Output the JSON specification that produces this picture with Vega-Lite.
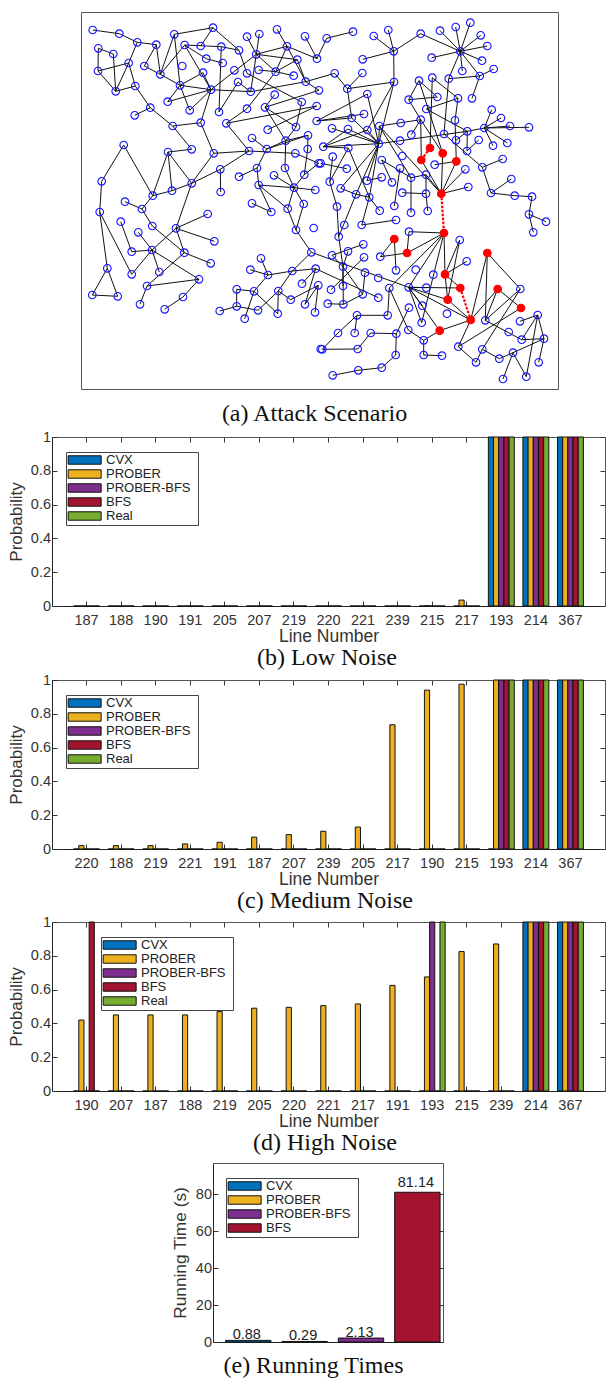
{
"$schema":"https://vega.github.io/schema/vega-lite/v6.json",
"padding":{"left":0,"top":-239,"right":0,"bottom":0},
"background":"white",
"config":{"font":"Liberation Sans","view":{"stroke":null},
"axis":{"labelFont":"Liberation Sans","titleFont":"Liberation Sans","labelColor":"#333333","titleColor":"#333333","labelFontSize":14.5,"titleFontSize":17,"titleFontWeight":"normal","tickColor":"#333333","domain":true,"domainColor":"#555555","domainWidth":1,"grid":false,"tickSize":-5,"labelAngle":0},
"title":{"font":"Liberation Serif","fontSize":24,"fontWeight":"normal","color":"#111111","orient":"bottom"},
"legend":{"orient":"none","labelFont":"Liberation Sans","labelFontSize":13,"labelColor":"#222222","title":null,"fillColor":"white","strokeColor":"#444444","padding":1.5,"symbolType":"M-1.53,0L-1.53,0M20.5,0L20.5,0M-1,-0.72H4.64V0.72H-1Z","symbolSize":137,"symbolStrokeColor":"#111111","symbolStrokeWidth":1,"labelOffset":25.5,"symbolOpacity":1}},
"datasets":{
"nodes":[
{"id":"a1","x":92.7,"y":30},{"id":"a2","x":119.3,"y":33.7},{"id":"a3","x":137.3,"y":42.3},{"id":"a4","x":156.3,"y":44.7},{"id":"a5","x":174.3,"y":34.3},{"id":"a6","x":213,"y":27.7},{"id":"a7","x":98.3,"y":48.3},{"id":"a8","x":113.3,"y":54},{"id":"a9","x":128.7,"y":63},{"id":"a10","x":144.3,"y":66},{"id":"a11","x":160.3,"y":74.3},{"id":"a12","x":184.7,"y":45},{"id":"a13","x":200.7,"y":46},{"id":"a14","x":221.3,"y":46.7},{"id":"a15","x":239,"y":50.3},{"id":"a16","x":206.3,"y":58.7},{"id":"a17","x":222.7,"y":63},{"id":"a18","x":182.3,"y":66},{"id":"a19","x":203,"y":72.7},{"id":"a20","x":98,"y":71},{"id":"a21","x":115.7,"y":91.3},{"id":"a22","x":135.3,"y":86},{"id":"a23","x":180,"y":85.3},{"id":"a24","x":211,"y":89.7},{"id":"a25","x":167.7,"y":101.7},{"id":"a26","x":189.7,"y":110.3},{"id":"a27","x":219,"y":112},{"id":"a28","x":238,"y":82},{"id":"a29","x":234.3,"y":70.3},{"id":"a30","x":250.7,"y":91.7},{"id":"a31","x":247,"y":73.3},{"id":"a32","x":247,"y":36.7},{"id":"a33","x":259.3,"y":34},{"id":"a34","x":256.3,"y":54.3},{"id":"a35","x":277,"y":29.3},{"id":"a36","x":287,"y":46.3},{"id":"a37","x":305,"y":36.3},{"id":"a38","x":297.3,"y":59.7},{"id":"a39","x":317,"y":58.7},{"id":"a40","x":258.7,"y":70},{"id":"a41","x":275.7,"y":71.7},{"id":"a42","x":293.7,"y":75.7},{"id":"a43","x":305.7,"y":81.7},{"id":"a44","x":274.7,"y":94.7},{"id":"a45","x":265,"y":107.3},{"id":"a46","x":301.7,"y":102},{"id":"a47","x":247,"y":108.7},{"id":"a48","x":226.3,"y":123.3},{"id":"a49","x":267.7,"y":129.7},{"id":"a50","x":296,"y":127},{"id":"a51","x":319,"y":90.3},{"id":"a52","x":316.7,"y":106},{"id":"a53","x":316.7,"y":121},{"id":"a54","x":308,"y":135.3},{"id":"a55","x":285.7,"y":140.7},{"id":"a56","x":252,"y":138},{"id":"a57","x":266.7,"y":149},{"id":"a58","x":249,"y":151},{"id":"a59","x":295.3,"y":153.3},{"id":"a60","x":307.7,"y":149},{"id":"a61","x":318.7,"y":163.3},{"id":"a62","x":304.3,"y":174.7},{"id":"a63","x":285,"y":168},{"id":"a64","x":274,"y":175.3},{"id":"a65","x":257,"y":168},{"id":"a66","x":239,"y":176.7},{"id":"a67","x":220.3,"y":169.3},{"id":"a68","x":220.7,"y":192},{"id":"a69","x":191.7,"y":183.3},{"id":"a70","x":213.7,"y":153.3},{"id":"a71","x":200.7,"y":122.7},{"id":"a72","x":172.7,"y":126},{"id":"a73","x":191.7,"y":149.3},{"id":"a74","x":168,"y":152},{"id":"a75","x":150.3,"y":107.7},{"id":"a76","x":134.7,"y":115.3},{"id":"a77","x":123.7,"y":145},{"id":"a78","x":101.7,"y":181.3},{"id":"a79","x":152.7,"y":195.7},{"id":"a80","x":172,"y":190.7},{"id":"a81","x":258.7,"y":185},{"id":"a82","x":294,"y":187.7},{"id":"a83","x":315.3,"y":190},
{"id":"c1","x":99.7,"y":212},{"id":"c2","x":125,"y":201.7},{"id":"c3","x":142,"y":209},{"id":"c4","x":120.7,"y":221.7},{"id":"c5","x":152.3,"y":226},{"id":"c6","x":176,"y":228.3},{"id":"c7","x":207.7,"y":214},{"id":"c8","x":214.3,"y":241.3},{"id":"c9","x":138.3,"y":232.3},{"id":"c10","x":131.7,"y":251.7},{"id":"c11","x":152,"y":250},{"id":"c12","x":184.3,"y":252.7},{"id":"c13","x":210.7,"y":263.3},{"id":"c14","x":159.3,"y":272},{"id":"c15","x":131.7,"y":274.3},{"id":"c16","x":107.3,"y":268.3},{"id":"c17","x":92.3,"y":295},{"id":"c18","x":117.7,"y":296.3},{"id":"c19","x":147,"y":286},{"id":"c20","x":199,"y":279.3},{"id":"c21","x":140,"y":304.3},{"id":"c22","x":183,"y":297},{"id":"c23","x":164.7,"y":309.3},{"id":"c24","x":252,"y":203.3},{"id":"c25","x":271.3,"y":212},{"id":"c26","x":287.7,"y":208.7},{"id":"c27","x":303.7,"y":204},{"id":"c28","x":296,"y":230},{"id":"c29","x":313.7,"y":228},{"id":"c30","x":311.3,"y":252.3},{"id":"c31","x":261,"y":258.3},{"id":"c32","x":250.3,"y":269.7},{"id":"c33","x":268,"y":275},{"id":"c34","x":292.3,"y":271},{"id":"c35","x":315.7,"y":268.7},{"id":"c36","x":302,"y":283.7},{"id":"c37","x":318.3,"y":285.3},{"id":"c38","x":236.7,"y":289.3},{"id":"c39","x":254,"y":291.3},{"id":"c40","x":278.3,"y":291},{"id":"c41","x":290.7,"y":299.7},{"id":"c42","x":305,"y":304.3},{"id":"c43","x":315,"y":312.3},{"id":"c44","x":236.7,"y":306.3},{"id":"c45","x":258,"y":310.3},{"id":"c46","x":277.7,"y":313.7},{"id":"c47","x":219.7,"y":311},{"id":"c48","x":244.7,"y":318.7},{"id":"c49","x":320.7,"y":349},
{"id":"b1","x":326.7,"y":38.3},{"id":"b2","x":353,"y":31.7},{"id":"b3","x":373.7,"y":36},{"id":"b4","x":388.3,"y":30},{"id":"b5","x":420.7,"y":33.7},{"id":"b6","x":393.7,"y":51.3},{"id":"b7","x":362.7,"y":59.3},{"id":"b8","x":440,"y":30.7},{"id":"b9","x":455.7,"y":27},{"id":"b10","x":470.3,"y":22.7},{"id":"b11","x":480.7,"y":35.3},{"id":"b12","x":487.3,"y":46},{"id":"b13","x":482,"y":60.7},{"id":"b14","x":460.3,"y":51.3},{"id":"b15","x":431.7,"y":57.7},{"id":"b16","x":462.3,"y":71},{"id":"b17","x":493.7,"y":69},{"id":"b18","x":479.7,"y":76},{"id":"b19","x":448.7,"y":78.7},{"id":"b20","x":432.3,"y":77.7},{"id":"b21","x":419,"y":80.7},{"id":"b22","x":472,"y":98.3},{"id":"b23","x":458,"y":98.3},{"id":"b24","x":437.3,"y":97},{"id":"b25","x":408.7,"y":99.7},{"id":"b26","x":426.3,"y":109},{"id":"b27","x":491.7,"y":109.7},{"id":"b28","x":501,"y":118},{"id":"b29","x":510,"y":126},{"id":"b30","x":529,"y":127.3},{"id":"b31","x":484.3,"y":128},{"id":"b32","x":467.3,"y":131.3},{"id":"b33","x":455,"y":120.3},{"id":"b34","x":420.7,"y":119.7},{"id":"b35","x":400.7,"y":123},{"id":"b36","x":379.3,"y":126},{"id":"b37","x":411.3,"y":134.7},{"id":"b38","x":444,"y":134},{"id":"b39","x":456,"y":140.3},{"id":"b40","x":478.7,"y":140},{"id":"b41","x":493,"y":145.7},{"id":"b42","x":507.3,"y":143},{"id":"b43","x":467,"y":151},{"id":"b44","x":400,"y":140.7},{"id":"b45","x":378.7,"y":143.7},{"id":"b46","x":402.3,"y":156},{"id":"b47","x":430,"y":148,"red":1},{"id":"b48","x":442.7,"y":153.3,"red":1},{"id":"b49","x":421.3,"y":160,"red":1},{"id":"b50","x":456.3,"y":161.3,"red":1},{"id":"b51","x":434.7,"y":164.7},{"id":"b52","x":465.3,"y":169.3},{"id":"b53","x":482.3,"y":167.3},{"id":"b54","x":502.7,"y":159},{"id":"b55","x":511.3,"y":179},{"id":"b56","x":491,"y":193},{"id":"b57","x":514.7,"y":195.7},{"id":"b58","x":532,"y":196.7},{"id":"b59","x":468.3,"y":187},{"id":"b60","x":441.3,"y":193.7,"red":1},{"id":"b61","x":426,"y":174.7},{"id":"b62","x":411,"y":177.7},{"id":"b63","x":400,"y":168.3},{"id":"b64","x":381.7,"y":160},{"id":"b65","x":392,"y":182.3},{"id":"b66","x":381.7,"y":177.3},{"id":"b67","x":367,"y":180.7},{"id":"b68","x":402.3,"y":192.7},{"id":"b69","x":426,"y":193.7},{"id":"b70","x":369.3,"y":197.3},{"id":"b71","x":356,"y":194.3},{"id":"b72","x":340.7,"y":188.3},{"id":"b73","x":329.7,"y":181.7},{"id":"b74","x":346.7,"y":168.7},{"id":"b75","x":332.7,"y":156.7},{"id":"b76","x":320.7,"y":163.3},{"id":"b77","x":348.3,"y":148},{"id":"b78","x":323.3,"y":146.7},{"id":"b79","x":367.3,"y":130},{"id":"b80","x":348,"y":129},{"id":"b81","x":332,"y":128.3},{"id":"b82","x":351.7,"y":118},{"id":"b83","x":364,"y":114},{"id":"b84","x":367.3,"y":94},{"id":"b85","x":347.3,"y":88.7},{"id":"b86","x":334.7,"y":73.3},{"id":"b87","x":362.3,"y":73},{"id":"b88","x":394,"y":82},
{"id":"d1","x":337,"y":206.7},{"id":"d3","x":379.7,"y":210.7},{"id":"d4","x":394.3,"y":206},{"id":"d5","x":411,"y":212.7},{"id":"d6","x":427.7,"y":211},{"id":"d7","x":344.3,"y":225},{"id":"d8","x":361.7,"y":225},{"id":"d9","x":396,"y":220},{"id":"d10","x":444,"y":233,"red":1},{"id":"d11","x":409,"y":231.7},{"id":"d12","x":394.3,"y":239,"red":1},{"id":"d13","x":407,"y":253,"red":1},{"id":"d14","x":380.3,"y":256.7},{"id":"d15","x":396,"y":270.3},{"id":"d16","x":459.7,"y":240},{"id":"d17","x":466.7,"y":261.3},{"id":"d18","x":487.3,"y":253,"red":1},{"id":"d19","x":338.7,"y":236.7},{"id":"d20","x":332,"y":255.3},{"id":"d21","x":348,"y":251.3},{"id":"d22","x":363.3,"y":244.3},{"id":"d23","x":364,"y":257.3},{"id":"d24","x":343,"y":266.7},{"id":"d25","x":365,"y":272.7},{"id":"d26","x":378.3,"y":278},{"id":"d27","x":415.7,"y":269.7},{"id":"d28","x":433.3,"y":274.7},{"id":"d29","x":445,"y":274.3,"red":1},{"id":"d30","x":460.3,"y":288,"red":1},{"id":"d31","x":426.3,"y":287.7},{"id":"d32","x":408.7,"y":287.3},{"id":"d33","x":389.3,"y":288},{"id":"d34","x":497.7,"y":289,"red":1},{"id":"d35","x":520.3,"y":289},{"id":"d36","x":447.7,"y":299.7,"red":1},{"id":"d37","x":521,"y":308,"red":1},{"id":"d38","x":470.7,"y":320,"red":1},{"id":"d39","x":439.7,"y":330.7,"red":1},{"id":"d40","x":447,"y":313.7},{"id":"d41","x":422.3,"y":305.7},{"id":"d42","x":409,"y":307.7},{"id":"d43","x":421.7,"y":322.7},{"id":"d44","x":485.3,"y":320.3},{"id":"d45","x":520,"y":321.3},{"id":"d46","x":537.7,"y":315},{"id":"d47","x":508.7,"y":332},{"id":"d48","x":521.7,"y":339.7},{"id":"d49","x":544,"y":338.7},{"id":"d51","x":331,"y":289.7},{"id":"d52","x":343,"y":286},{"id":"d53","x":362.7,"y":294.3},{"id":"d54","x":378.3,"y":297.7},{"id":"d55","x":327.7,"y":303.7},{"id":"d56","x":343.3,"y":304.3},{"id":"d57","x":357,"y":315.3},{"id":"d58","x":387.7,"y":315.3},{"id":"d59","x":338,"y":333},{"id":"d60","x":354.7,"y":333},{"id":"d61","x":370.7,"y":333},{"id":"d62","x":396.3,"y":333.7},{"id":"d63","x":408.3,"y":330},{"id":"d64","x":423.7,"y":340.3},{"id":"d65","x":322.3,"y":349.3},{"id":"d66","x":357.7,"y":349},{"id":"d67","x":395.7,"y":355},{"id":"d68","x":423.7,"y":355},{"id":"d69","x":442,"y":355.7},{"id":"d70","x":458.3,"y":346.7},{"id":"d71","x":476,"y":362.3},{"id":"d72","x":482.3,"y":349.3},{"id":"d73","x":499.3,"y":358.7},{"id":"d74","x":513,"y":352.7},{"id":"d75","x":538.7,"y":362.3},{"id":"d76","x":503,"y":379},{"id":"d77","x":526.3,"y":376.7},{"id":"d78","x":381.7,"y":367.7},{"id":"d79","x":358.3,"y":370.3},{"id":"d80","x":332.7,"y":375.3},{"id":"d81","x":529,"y":214.3},{"id":"d82","x":546,"y":221.7},{"id":"d83","x":533.3,"y":232.3}
],
"edges":[
{"s":"a1","t":"a2"},{"s":"a2","t":"a3"},{"s":"a3","t":"a4"},{"s":"a3","t":"a9"},{"s":"a4","t":"a10"},{"s":"a4","t":"a11"},{"s":"a5","t":"a6"},{"s":"a5","t":"a11"},{"s":"a6","t":"a13"},{"s":"a6","t":"a15"},{"s":"a5","t":"a23"},{"s":"a12","t":"a11"},{"s":"a12","t":"a14"},{"s":"a14","t":"a15"},{"s":"a14","t":"a27"},{"s":"a12","t":"a16"},{"s":"a16","t":"a17"},{"s":"a12","t":"a24"},{"s":"a7","t":"a8"},{"s":"a7","t":"a20"},{"s":"a8","t":"a21"},{"s":"a9","t":"a20"},{"s":"a9","t":"a21"},{"s":"a9","t":"a22"},{"s":"a20","t":"a21"},{"s":"a21","t":"a22"},{"s":"a22","t":"a75"},{"s":"a10","t":"a11"},{"s":"a11","t":"a23"},{"s":"a23","t":"a19"},{"s":"a23","t":"a24"},{"s":"a23","t":"a25"},{"s":"a23","t":"a26"},{"s":"a24","t":"a25"},{"s":"a24","t":"a26"},{"s":"a24","t":"a71"},{"s":"a24","t":"a34"},{"s":"a24","t":"a19"},{"s":"a24","t":"a30"},{"s":"a27","t":"a28"},{"s":"a28","t":"a30"},{"s":"a15","t":"a31"},{"s":"a31","t":"a46"},{"s":"a34","t":"a32"},{"s":"a34","t":"a33"},{"s":"a34","t":"a36"},{"s":"a34","t":"a38"},{"s":"a34","t":"a41"},{"s":"a34","t":"a30"},{"s":"a35","t":"a36"},{"s":"a36","t":"a41"},{"s":"a36","t":"a43"},{"s":"a38","t":"a41"},{"s":"a38","t":"a43"},{"s":"a37","t":"a39"},{"s":"a39","t":"a36"},{"s":"a41","t":"a40"},{"s":"a41","t":"a42"},{"s":"a41","t":"a47"},{"s":"a43","t":"a30"},{"s":"a43","t":"a51"},{"s":"a44","t":"a45"},{"s":"a45","t":"a51"},{"s":"a45","t":"a50"},{"s":"a45","t":"a55"},{"s":"a48","t":"a52"},{"s":"a46","t":"a50"},{"s":"a49","t":"a52"},{"s":"a47","t":"a48"},{"s":"a48","t":"a58"},{"s":"a50","t":"a55"},{"s":"a55","t":"a57"},{"s":"a55","t":"a63"},{"s":"a55","t":"a54"},{"s":"a57","t":"a56"},{"s":"a58","t":"a59"},{"s":"a57","t":"a54"},{"s":"a57","t":"a65"},{"s":"a58","t":"a70"},{"s":"a58","t":"a67"},{"s":"a67","t":"a69"},{"s":"a67","t":"a68"},{"s":"a70","t":"a71"},{"s":"a70","t":"a69"},{"s":"a71","t":"a72"},{"s":"a72","t":"a75"},{"s":"a72","t":"a73"},{"s":"a75","t":"a76"},{"s":"a74","t":"a73"},{"s":"a74","t":"a69"},{"s":"a74","t":"a79"},{"s":"a74","t":"a80"},{"s":"a69","t":"a80"},{"s":"a77","t":"a78"},{"s":"a77","t":"a79"},{"s":"a78","t":"c1"},{"s":"a65","t":"a66"},{"s":"a65","t":"a81"},{"s":"a81","t":"a82"},{"s":"a82","t":"a83"},{"s":"a81","t":"c26"},{"s":"a81","t":"c25"},{"s":"a63","t":"a82"},{"s":"a64","t":"a82"},{"s":"a62","t":"a82"},{"s":"a61","t":"a62"},{"s":"a59","t":"a61"},{"s":"a60","t":"a54"},{"s":"a60","t":"a62"},{"s":"a69","t":"c6"},{"s":"a79","t":"a80"},{"s":"a79","t":"c3"},{"s":"a82","t":"c26"},{"s":"a82","t":"c27"},
{"s":"c1","t":"c16"},{"s":"c1","t":"c15"},{"s":"c16","t":"c17"},{"s":"c16","t":"c18"},{"s":"c17","t":"c18"},{"s":"c3","t":"c2"},{"s":"c3","t":"c5"},{"s":"c5","t":"c12"},{"s":"c4","t":"c10"},{"s":"c9","t":"c11"},{"s":"c10","t":"c11"},{"s":"c11","t":"c6"},{"s":"c11","t":"c15"},{"s":"c11","t":"c14"},{"s":"c11","t":"c20"},{"s":"c6","t":"c7"},{"s":"c6","t":"c8"},{"s":"c6","t":"c12"},{"s":"c12","t":"c13"},{"s":"c12","t":"c19"},{"s":"c19","t":"c20"},{"s":"c19","t":"c21"},{"s":"c20","t":"c22"},{"s":"c22","t":"c23"},{"s":"c24","t":"c25"},{"s":"c26","t":"c28"},{"s":"c27","t":"c28"},{"s":"c28","t":"c30"},{"s":"c30","t":"c34"},{"s":"c31","t":"c33"},{"s":"c32","t":"c33"},{"s":"c33","t":"c34"},{"s":"c33","t":"c39"},{"s":"c34","t":"c35"},{"s":"c34","t":"c40"},{"s":"c35","t":"c36"},{"s":"c35","t":"c42"},{"s":"c37","t":"c41"},{"s":"c37","t":"c42"},{"s":"c37","t":"c43"},{"s":"c41","t":"c40"},{"s":"c40","t":"c45"},{"s":"c40","t":"c46"},{"s":"c39","t":"c46"},{"s":"c39","t":"c38"},{"s":"c38","t":"c44"},{"s":"c39","t":"c48"},{"s":"c44","t":"c45"},{"s":"c44","t":"c47"},
{"s":"b1","t":"b2"},{"s":"b1","t":"a39"},{"s":"b3","t":"b6"},{"s":"b4","t":"b6"},{"s":"b5","t":"b6"},{"s":"b7","t":"b6"},{"s":"b5","t":"b14"},{"s":"b8","t":"b14"},{"s":"b9","t":"b14"},{"s":"b10","t":"b14"},{"s":"b11","t":"b14"},{"s":"b12","t":"b14"},{"s":"b13","t":"b14"},{"s":"b15","t":"b14"},{"s":"b16","t":"b14"},{"s":"b18","t":"b14"},{"s":"b19","t":"b14"},{"s":"b17","t":"b18"},{"s":"b18","t":"b19"},{"s":"b18","t":"b22"},{"s":"b19","t":"b38"},{"s":"b20","t":"b23"},{"s":"b20","t":"b47"},{"s":"b21","t":"b24"},{"s":"b21","t":"b25"},{"s":"b21","t":"b48"},{"s":"b25","t":"b24"},{"s":"b25","t":"b34"},{"s":"b26","t":"b23"},{"s":"b26","t":"b32"},{"s":"b23","t":"b33"},{"s":"b33","t":"b50"},{"s":"b34","t":"b36"},{"s":"b34","t":"b49"},{"s":"b34","t":"b48"},{"s":"b34","t":"b37"},{"s":"b32","t":"b31"},{"s":"b32","t":"b43"},{"s":"b32","t":"b39"},{"s":"b38","t":"b53"},{"s":"b31","t":"b27"},{"s":"b31","t":"b28"},{"s":"b31","t":"b29"},{"s":"b31","t":"b30"},{"s":"b31","t":"b41"},{"s":"b31","t":"b42"},{"s":"b43","t":"b40"},{"s":"b53","t":"b54"},{"s":"b53","t":"b56"},{"s":"b55","t":"b56"},{"s":"b56","t":"b57"},{"s":"b57","t":"b58"},{"s":"b45","t":"b32"},{"s":"b36","t":"b60"},{"s":"b36","t":"b62"},{"s":"b36","t":"b45"},{"s":"b49","t":"b60"},{"s":"b48","t":"b60"},{"s":"b50","t":"b60"},{"s":"b51","t":"b50"},{"s":"b52","t":"b60"},{"s":"b59","t":"b60"},{"s":"b64","t":"b62"},{"s":"b64","t":"b65"},{"s":"b61","t":"b62"},{"s":"b61","t":"b60"},{"s":"b63","t":"d4"},{"s":"b62","t":"d5"},{"s":"b69","t":"b68"},{"s":"b69","t":"b61"},{"s":"b69","t":"d6"},{"s":"b88","t":"b6"},{"s":"b88","t":"b85"},{"s":"b88","t":"b79"},{"s":"b88","t":"b45"},{"s":"b84","t":"b45"},{"s":"b84","t":"a53"},{"s":"b85","t":"b86"},{"s":"b85","t":"b82"},{"s":"b87","t":"b85"},{"s":"b86","t":"a43"},{"s":"b82","t":"b45"},{"s":"b82","t":"a53"},{"s":"b83","t":"a53"},{"s":"b79","t":"b45"},{"s":"b79","t":"b78"},{"s":"b78","t":"b77"},{"s":"b78","t":"b45"},{"s":"b78","t":"b80"},{"s":"b80","t":"b45"},{"s":"b81","t":"b45"},{"s":"b45","t":"b70"},{"s":"b45","t":"b71"},{"s":"b45","t":"b67"},{"s":"b45","t":"b72"},{"s":"b66","t":"b67"},{"s":"b77","t":"b73"},{"s":"b77","t":"b70"},{"s":"b74","t":"b76"},{"s":"b73","t":"b75"},{"s":"b71","t":"b72"},{"s":"b70","t":"b71"},
{"s":"b70","t":"d3"},{"s":"b70","t":"d8"},{"s":"b73","t":"d1"},{"s":"b71","t":"d19"},{"s":"d1","t":"d19"},{"s":"d19","t":"d24"},{"s":"d8","t":"d9"},{"s":"d10","t":"d11"},{"s":"d10","t":"d13"},{"s":"d10","t":"d29"},{"s":"d10","t":"d33"},{"s":"d10","t":"d32"},{"s":"d10","t":"d43"},{"s":"d12","t":"d14"},{"s":"d12","t":"d15"},{"s":"d11","t":"d13"},{"s":"d13","t":"d14"},{"s":"d16","t":"d29"},{"s":"d16","t":"d36"},{"s":"d17","t":"d29"},{"s":"d29","t":"d30"},{"s":"d29","t":"d36"},{"s":"d32","t":"d30"},{"s":"d32","t":"d36"},{"s":"d32","t":"d38"},{"s":"d32","t":"d39"},{"s":"d32","t":"d43"},{"s":"d32","t":"d41"},{"s":"d32","t":"d31"},{"s":"d33","t":"d58"},{"s":"d36","t":"d38"},{"s":"d38","t":"d39"},{"s":"d38","t":"d18"},{"s":"d18","t":"d35"},{"s":"d18","t":"d44"},{"s":"d38","t":"d34"},{"s":"d34","t":"d37"},{"s":"d34","t":"d44"},{"s":"d35","t":"d44"},{"s":"d37","t":"d70"},{"s":"d35","t":"d72"},{"s":"d38","t":"d70"},{"s":"d70","t":"d71"},{"s":"d71","t":"d72"},{"s":"d72","t":"d73"},{"s":"d73","t":"d74"},{"s":"d74","t":"d49"},{"s":"d44","t":"d48"},{"s":"d48","t":"d49"},{"s":"d46","t":"d45"},{"s":"d46","t":"d48"},{"s":"d46","t":"d49"},{"s":"d46","t":"d77"},{"s":"d74","t":"d76"},{"s":"d74","t":"d77"},{"s":"d49","t":"d75"},{"s":"d42","t":"d62"},{"s":"d62","t":"d61"},{"s":"d61","t":"d66"},{"s":"d66","t":"d65"},{"s":"d65","t":"d59"},{"s":"d59","t":"d57"},{"s":"d57","t":"d58"},{"s":"d57","t":"d60"},{"s":"d62","t":"d67"},{"s":"d67","t":"d78"},{"s":"d78","t":"d79"},{"s":"d79","t":"d80"},{"s":"d33","t":"d63"},{"s":"d63","t":"d64"},{"s":"d64","t":"d39"},{"s":"d64","t":"d68"},{"s":"d68","t":"d69"},{"s":"d24","t":"d52"},{"s":"d24","t":"d56"},{"s":"d24","t":"d20"},{"s":"d24","t":"d21"},{"s":"d20","t":"d22"},{"s":"d23","t":"d51"},{"s":"d25","t":"d53"},{"s":"d53","t":"d24"},{"s":"d53","t":"d56"},{"s":"d55","t":"d56"},{"s":"c30","t":"d32"},{"s":"c35","t":"d54"},{"s":"d81","t":"d82"},{"s":"d81","t":"d83"},{"s":"b58","t":"d81"},
{"s":"b47","t":"b49","kind":"attack"},{"s":"b60","t":"d10","kind":"attack"},{"s":"d30","t":"d38","kind":"attack"}
],
"low":[
{"line":"187","CVX":0,"PROBER":0,"PROBER-BFS":0,"BFS":0,"Real":0},{"line":"188","CVX":0,"PROBER":0,"PROBER-BFS":0,"BFS":0,"Real":0},{"line":"190","CVX":0,"PROBER":0,"PROBER-BFS":0,"BFS":0,"Real":0},{"line":"191","CVX":0,"PROBER":0,"PROBER-BFS":0,"BFS":0,"Real":0},{"line":"205","CVX":0,"PROBER":0,"PROBER-BFS":0,"BFS":0,"Real":0},{"line":"207","CVX":0,"PROBER":0,"PROBER-BFS":0,"BFS":0,"Real":0},{"line":"219","CVX":0,"PROBER":0,"PROBER-BFS":0,"BFS":0,"Real":0},{"line":"220","CVX":0,"PROBER":0,"PROBER-BFS":0,"BFS":0,"Real":0},{"line":"221","CVX":0,"PROBER":0,"PROBER-BFS":0,"BFS":0,"Real":0},{"line":"239","CVX":0,"PROBER":0,"PROBER-BFS":0,"BFS":0,"Real":0},{"line":"215","CVX":0,"PROBER":0.002,"PROBER-BFS":0,"BFS":0,"Real":0},{"line":"217","CVX":0,"PROBER":0.035,"PROBER-BFS":0,"BFS":0,"Real":0},{"line":"193","CVX":1,"PROBER":1,"PROBER-BFS":1,"BFS":1,"Real":1},{"line":"214","CVX":1,"PROBER":1,"PROBER-BFS":1,"BFS":1,"Real":1},{"line":"367","CVX":1,"PROBER":1,"PROBER-BFS":1,"BFS":1,"Real":1}
],
"medium":[
{"line":"220","CVX":0,"PROBER":0.02,"PROBER-BFS":0,"BFS":0,"Real":0},{"line":"188","CVX":0,"PROBER":0.02,"PROBER-BFS":0,"BFS":0,"Real":0},{"line":"219","CVX":0,"PROBER":0.02,"PROBER-BFS":0,"BFS":0,"Real":0},{"line":"221","CVX":0,"PROBER":0.03,"PROBER-BFS":0,"BFS":0,"Real":0},{"line":"191","CVX":0,"PROBER":0.04,"PROBER-BFS":0,"BFS":0,"Real":0},{"line":"187","CVX":0,"PROBER":0.07,"PROBER-BFS":0,"BFS":0,"Real":0},{"line":"207","CVX":0,"PROBER":0.085,"PROBER-BFS":0,"BFS":0,"Real":0},{"line":"239","CVX":0,"PROBER":0.105,"PROBER-BFS":0,"BFS":0,"Real":0},{"line":"205","CVX":0,"PROBER":0.13,"PROBER-BFS":0,"BFS":0,"Real":0},{"line":"217","CVX":0,"PROBER":0.735,"PROBER-BFS":0,"BFS":0,"Real":0},{"line":"190","CVX":0,"PROBER":0.94,"PROBER-BFS":0,"BFS":0,"Real":0},{"line":"215","CVX":0,"PROBER":0.975,"PROBER-BFS":0,"BFS":0,"Real":0},{"line":"193","CVX":0,"PROBER":1,"PROBER-BFS":1,"BFS":1,"Real":1},{"line":"214","CVX":1,"PROBER":1,"PROBER-BFS":1,"BFS":1,"Real":1},{"line":"367","CVX":1,"PROBER":1,"PROBER-BFS":1,"BFS":1,"Real":1}
],
"high":[
{"line":"190","CVX":0,"PROBER":0.42,"PROBER-BFS":0,"BFS":1,"Real":0},{"line":"207","CVX":0,"PROBER":0.45,"PROBER-BFS":0,"BFS":0,"Real":0},{"line":"187","CVX":0,"PROBER":0.45,"PROBER-BFS":0,"BFS":0,"Real":0},{"line":"188","CVX":0,"PROBER":0.45,"PROBER-BFS":0,"BFS":0,"Real":0},{"line":"219","CVX":0,"PROBER":0.47,"PROBER-BFS":0,"BFS":0,"Real":0},{"line":"205","CVX":0,"PROBER":0.49,"PROBER-BFS":0,"BFS":0,"Real":0},{"line":"220","CVX":0,"PROBER":0.495,"PROBER-BFS":0,"BFS":0,"Real":0},{"line":"221","CVX":0,"PROBER":0.505,"PROBER-BFS":0,"BFS":0,"Real":0},{"line":"217","CVX":0,"PROBER":0.515,"PROBER-BFS":0,"BFS":0,"Real":0},{"line":"191","CVX":0,"PROBER":0.625,"PROBER-BFS":0,"BFS":0,"Real":0},{"line":"193","CVX":0,"PROBER":0.675,"PROBER-BFS":1,"BFS":0,"Real":1},{"line":"215","CVX":0,"PROBER":0.825,"PROBER-BFS":0,"BFS":0,"Real":0},{"line":"239","CVX":0,"PROBER":0.87,"PROBER-BFS":0,"BFS":0,"Real":0},{"line":"214","CVX":1,"PROBER":1,"PROBER-BFS":1,"BFS":1,"Real":1},{"line":"367","CVX":1,"PROBER":1,"PROBER-BFS":1,"BFS":1,"Real":1}
],
"times":[{"method":"CVX","seconds":0.88},{"method":"PROBER","seconds":0.29},{"method":"PROBER-BFS","seconds":2.13},{"method":"BFS","seconds":81.14}]
},
"vconcat":[
{"width":606,"height":377,"title":{"text":"(a) Attack Scenario","dx":11.5,"offset":13},
 "resolve":{"axis":{"x":"independent","y":"independent"}},
 "layer":[
 {"data":{"name":"edges"},"transform":[{"filter":"datum.kind!=='attack'"},{"lookup":"s","from":{"data":{"name":"nodes"},"key":"id","fields":["x","y"]},"as":["x1","y1"]},{"lookup":"t","from":{"data":{"name":"nodes"},"key":"id","fields":["x","y"]},"as":["x2","y2"]}],
  "mark":{"type":"rule","stroke":"#111111","strokeWidth":1},
  "encoding":{"x":{"field":"x1","type":"quantitative","scale":{"domain":[81,558],"range":[81,558],"nice":false,"zero":false},"axis":{"labels":false,"ticks":false,"title":null}},"y":{"field":"y1","type":"quantitative","scale":{"domain":[389,12],"nice":false,"zero":false},"axis":{"labels":false,"ticks":false,"title":null,"offset":-81}},"x2":{"field":"x2"},"y2":{"field":"y2"}}},
 {"data":{"name":"edges"},"transform":[{"filter":"datum.kind==='attack'"},{"lookup":"s","from":{"data":{"name":"nodes"},"key":"id","fields":["x","y"]},"as":["x1","y1"]},{"lookup":"t","from":{"data":{"name":"nodes"},"key":"id","fields":["x","y"]},"as":["x2","y2"]}],
  "mark":{"type":"rule","stroke":"#ff0000","strokeWidth":2.2,"strokeDash":[2.5,1.5]},
  "encoding":{"x":{"field":"x1","type":"quantitative","scale":{"domain":[81,558],"range":[81,558],"nice":false,"zero":false},"axis":{"orient":"top","labels":false,"ticks":false,"title":null}},"y":{"field":"y1","type":"quantitative","scale":{"domain":[389,12],"nice":false,"zero":false},"axis":{"orient":"right","labels":false,"ticks":false,"title":null,"offset":-48}},"x2":{"field":"x2"},"y2":{"field":"y2"}}},
 {"data":{"name":"nodes"},
  "mark":{"type":"point","shape":"circle","size":58,"filled":true,"strokeWidth":1.1,"opacity":1},
  "encoding":{"x":{"field":"x","type":"quantitative","scale":{"domain":[81,558],"range":[81,558],"nice":false,"zero":false},"axis":null},"y":{"field":"y","type":"quantitative","scale":{"domain":[389,12],"nice":false,"zero":false},"axis":null},
  "fill":{"condition":{"test":"datum.red===1","value":"#ff0000"},"value":"transparent"},"stroke":{"condition":{"test":"datum.red===1","value":"#ff0000"},"value":"#1414ff"}}}
 ]},
{"width":606,"height":48,"mark":{"type":"rule","opacity":0},"encoding":{}},
{"width":606,"height":169,"title":{"text":"(b) Low Noise","dx":24,"offset":1},
 "data":{"name":"low"},"transform":[{"fold":["CVX","PROBER","PROBER-BFS","BFS","Real"],"as":["series","p"]}],
 "resolve":{"axis":{"x":"independent","y":"independent"}},
 "layer":[
 {"mark":{"type":"bar","stroke":"#111111","strokeWidth":1},
  "encoding":{"x":{"field":"line","type":"nominal","sort":null,"scale":{"range":[52,605],"paddingInner":0.25,"paddingOuter":0.625},"axis":{"title":"Line Number","titleFontSize":17.5,"labelPadding":12.5,"titlePadding":0.5,"domainColor":"#222222"}},
  "xOffset":{"field":"series","type":"nominal","sort":["CVX","PROBER","PROBER-BFS","BFS","Real"]},
  "y":{"field":"p","type":"quantitative","scale":{"domain":[0,1],"nice":false},"axis":{"title":"Probability","values":[0,0.2,0.4,0.6,0.8,1],"format":".1~f","labelPadding":6.5,"offset":-52,"titleX":-27,"domainColor":"#222222"}},
  "fill":{"field":"series","type":"nominal","scale":{"domain":["CVX","PROBER","PROBER-BFS","BFS","Real"],"range":["#0072BD","#EDB120","#7E2F8E","#A2142F","#77AC30"]},"legend":{"legendX":66,"legendY":15,"rowPadding":-0.3}}}},
 {"mark":{"type":"bar","opacity":0},
  "encoding":{"x":{"field":"line","type":"nominal","sort":null,"scale":{"range":[52,605],"paddingInner":0.25,"paddingOuter":0.625},"axis":{"orient":"top","labels":false,"title":null}},
  "y":{"field":"p","type":"quantitative","scale":{"domain":[0,1],"nice":false},"axis":{"orient":"right","labels":false,"title":null,"offset":-1,"values":[0,0.2,0.4,0.6,0.8,1]}}}}
 ]},
{"width":606,"height":74,"mark":{"type":"rule","opacity":0},"encoding":{}},
{"width":606,"height":169,"title":{"text":"(c) Medium Noise","dx":22,"offset":1},
 "data":{"name":"medium"},"transform":[{"fold":["CVX","PROBER","PROBER-BFS","BFS","Real"],"as":["series","p"]}],
 "resolve":{"axis":{"x":"independent","y":"independent"}},
 "layer":[
 {"mark":{"type":"bar","stroke":"#111111","strokeWidth":1},
  "encoding":{"x":{"field":"line","type":"nominal","sort":null,"scale":{"range":[52,605],"paddingInner":0.25,"paddingOuter":0.625},"axis":{"title":"Line Number","titleFontSize":17.5,"labelPadding":12.5,"titlePadding":0.5,"domainColor":"#222222"}},
  "xOffset":{"field":"series","type":"nominal","sort":["CVX","PROBER","PROBER-BFS","BFS","Real"]},
  "y":{"field":"p","type":"quantitative","scale":{"domain":[0,1],"nice":false},"axis":{"title":"Probability","values":[0,0.2,0.4,0.6,0.8,1],"format":".1~f","labelPadding":6.5,"offset":-52,"titleX":-27,"domainColor":"#222222"}},
  "fill":{"field":"series","type":"nominal","scale":{"domain":["CVX","PROBER","PROBER-BFS","BFS","Real"],"range":["#0072BD","#EDB120","#7E2F8E","#A2142F","#77AC30"]},"legend":{"legendX":66,"legendY":15,"rowPadding":-0.3}}}},
 {"mark":{"type":"bar","opacity":0},
  "encoding":{"x":{"field":"line","type":"nominal","sort":null,"scale":{"range":[52,605],"paddingInner":0.25,"paddingOuter":0.625},"axis":{"orient":"top","labels":false,"title":null}},
  "y":{"field":"p","type":"quantitative","scale":{"domain":[0,1],"nice":false},"axis":{"orient":"right","labels":false,"title":null,"offset":-1,"values":[0,0.2,0.4,0.6,0.8,1]}}}}
 ]},
{"width":606,"height":73,"mark":{"type":"rule","opacity":0},"encoding":{}},
{"width":606,"height":169,"title":{"text":"(d) High Noise","dx":22,"offset":1},
 "data":{"name":"high"},"transform":[{"fold":["CVX","PROBER","PROBER-BFS","BFS","Real"],"as":["series","p"]}],
 "resolve":{"axis":{"x":"independent","y":"independent"}},
 "layer":[
 {"mark":{"type":"bar","stroke":"#111111","strokeWidth":1},
  "encoding":{"x":{"field":"line","type":"nominal","sort":null,"scale":{"range":[52,605],"paddingInner":0.25,"paddingOuter":0.625},"axis":{"title":"Line Number","titleFontSize":17.5,"labelPadding":12.5,"titlePadding":0.5,"domainColor":"#222222"}},
  "xOffset":{"field":"series","type":"nominal","sort":["CVX","PROBER","PROBER-BFS","BFS","Real"]},
  "y":{"field":"p","type":"quantitative","scale":{"domain":[0,1],"nice":false},"axis":{"title":"Probability","values":[0,0.2,0.4,0.6,0.8,1],"format":".1~f","labelPadding":6.5,"offset":-52,"titleX":-27,"domainColor":"#222222"}},
  "fill":{"field":"series","type":"nominal","scale":{"domain":["CVX","PROBER","PROBER-BFS","BFS","Real"],"range":["#0072BD","#EDB120","#7E2F8E","#A2142F","#77AC30"]},"legend":{"legendX":101,"legendY":15,"rowPadding":-0.3}}}},
 {"mark":{"type":"bar","opacity":0},
  "encoding":{"x":{"field":"line","type":"nominal","sort":null,"scale":{"range":[52,605],"paddingInner":0.25,"paddingOuter":0.625},"axis":{"orient":"top","labels":false,"title":null}},
  "y":{"field":"p","type":"quantitative","scale":{"domain":[0,1],"nice":false},"axis":{"orient":"right","labels":false,"title":null,"offset":-1,"values":[0,0.2,0.4,0.6,0.8,1]}}}}
 ]},
{"width":606,"height":72,"mark":{"type":"rule","opacity":0},"encoding":{}},
{"width":606,"height":179,"title":{"text":"(e) Running Times","dx":10.5,"offset":5},
 "data":{"name":"times"},
 "resolve":{"axis":{"x":"independent","y":"independent"}},
 "layer":[
 {"mark":{"type":"bar","stroke":"#111111","strokeWidth":1},
  "encoding":{"x":{"field":"method","type":"nominal","sort":null,"scale":{"range":[213,443],"paddingInner":0.195,"paddingOuter":0.1375,"align":0.81},"axis":{"labels":false,"ticks":false,"title":null,"domainColor":"#222222"}},
  "y":{"field":"seconds","type":"quantitative","scale":{"domain":[0,97],"nice":false},"axis":{"title":"Running Time (s)","titleFontSize":17.3,"values":[0,20,40,60,80],"labelPadding":6.5,"offset":-213,"titleX":-24,"domainColor":"#222222"}},
  "fill":{"field":"method","type":"nominal","scale":{"domain":["CVX","PROBER","PROBER-BFS","BFS"],"range":["#0072BD","#EDB120","#7E2F8E","#A2142F"]},"legend":{"legendX":226,"legendY":15,"rowPadding":-0.3}}}},
 {"transform":[{"filter":"datum.method!=='BFS'"}],"mark":{"type":"text","baseline":"alphabetic","fontSize":14.5,"color":"#222222","dy":-1,"dx":-1.5},
  "encoding":{"x":{"field":"method","type":"nominal","sort":null,"scale":{"range":[213,443],"paddingInner":0.195,"paddingOuter":0.1375,"align":0.81},"axis":null},"y":{"field":"seconds","type":"quantitative","axis":null},"text":{"field":"seconds","type":"quantitative","format":".2f"}}},
 {"transform":[{"filter":"datum.method==='BFS'"}],"mark":{"type":"text","baseline":"alphabetic","fontSize":14.5,"color":"#222222","dy":-5,"dx":-1.5},
  "encoding":{"x":{"field":"method","type":"nominal","sort":null,"scale":{"range":[213,443],"paddingInner":0.195,"paddingOuter":0.1375,"align":0.81},"axis":null},"y":{"field":"seconds","type":"quantitative","axis":null},"text":{"field":"seconds","type":"quantitative","format":".2f"}}},
 {"mark":{"type":"bar","opacity":0},
  "encoding":{"x":{"field":"method","type":"nominal","sort":null,"scale":{"range":[213,443],"paddingInner":0.195,"paddingOuter":0.1375,"align":0.81},"axis":{"orient":"top","labels":false,"ticks":false,"title":null}},"y":{"field":"seconds","type":"quantitative","axis":{"orient":"right","labels":false,"title":null,"offset":-163,"values":[0,20,40,60,80]}}}}
 ]}
],
"bounds":"flush","spacing":0,
"resolve":{"scale":{"fill":"independent","x":"independent","y":"independent"},"legend":{"fill":"independent"},"axis":{"x":"independent","y":"independent"}}
}
